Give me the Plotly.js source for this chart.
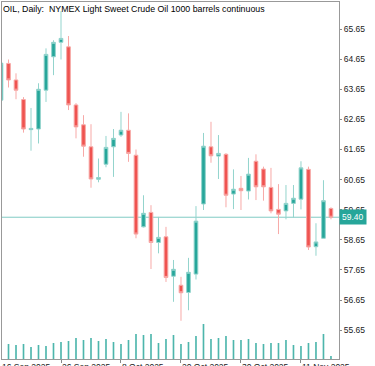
<!DOCTYPE html>
<html>
<head>
<meta charset="utf-8">
<script src="https://cdn.plot.ly/plotly-3.0.1.min.js"></script>
<style>
html,body{margin:0;padding:0;background:#fff;}
#chart{width:375px;height:366px;}
</style>
</head>
<body>
<div id="chart"></div>
<script>
// ---- data ----
const dates = ["2025-09-16","2025-09-17","2025-09-18","2025-09-19","2025-09-22","2025-09-23","2025-09-24","2025-09-25","2025-09-26","2025-09-29",
"2025-09-30","2025-10-01","2025-10-02","2025-10-03","2025-10-06","2025-10-07","2025-10-08","2025-10-09","2025-10-10","2025-10-13",
"2025-10-14","2025-10-15","2025-10-16","2025-10-17","2025-10-20","2025-10-21","2025-10-22","2025-10-23","2025-10-24","2025-10-27",
"2025-10-28","2025-10-29","2025-10-30","2025-10-31","2025-11-03","2025-11-04","2025-11-05","2025-11-06","2025-11-07","2025-11-10",
"2025-11-11","2025-11-12","2025-11-13","2025-11-14","2025-11-17"];
const open  = [63.29,64.51,63.96,63.31,62.31,62.33,63.62,64.73,65.21,65.06,
               63.13,62.47,61.74,60.66,61.16,61.74,62.13,62.29,61.46,59.08,
               59.56,58.56,58.75,57.44,57.14,56.90,57.51,59.84,61.74,61.43,
               61.49,60.17,60.36,60.27,61.26,61.00,60.39,59.66,59.61,59.86,
               60.00,60.99,58.42,58.70,59.69];
const high  = [64.62,64.64,64.18,63.39,63.03,63.85,65.01,65.28,66.25,65.42,
               63.19,62.79,62.49,61.35,62.10,62.33,62.90,62.85,61.65,60.13,
               59.80,59.41,59.08,57.98,57.42,58.05,59.77,62.20,62.57,62.13,
               61.53,60.99,60.77,61.37,61.49,61.08,61.04,60.50,60.47,60.47,
               61.26,61.08,59.20,60.63,59.73];
const low   = [63.20,63.71,63.32,62.21,61.61,61.85,63.23,64.12,64.64,62.96,
               62.02,61.41,60.38,60.56,61.06,60.74,62.07,61.24,58.70,59.06,
               57.68,58.20,57.25,56.59,55.96,56.31,57.33,59.64,61.21,60.67,
               59.73,59.67,59.64,59.99,59.97,59.95,59.53,58.84,59.33,59.39,
               59.66,58.31,58.12,58.70,59.33];
const close = [64.52,63.96,63.62,62.33,62.35,63.65,64.81,65.21,65.34,63.13,
               62.40,61.76,60.67,60.72,61.72,62.02,62.29,61.52,58.84,59.53,
               58.56,58.73,57.40,57.67,56.89,57.57,59.27,61.76,61.44,61.52,
               60.13,60.33,60.28,60.83,60.41,60.41,59.61,59.50,59.86,60.03,
               61.04,58.41,58.58,59.95,59.40];
const volume = [14,15,14,15,12,14,13,16,17,18,
                21,19,21,18,20,17,15,19,25,24,
                25,16,20,24,15,17,23,35,20,21,
                23,19,19,20,16,15,16,16,19,14,
                13,16,17,25,3];
const tickIdx  = [0,8,16,24,32,40];
const tickText = ["16 Sep 2025","26 Sep 2025","8 Oct 2025","20 Oct 2025","30 Oct 2025","11 Nov 2025"];
const priceTicks = [55.65,56.65,57.65,58.65,59.65,60.65,61.65,62.65,63.65,64.65,65.65];
const titleText = "OIL, Daily:  NYMEX Light Sweet Crude Oil 1000 barrels continuous";

// ---- chart ----
const idx = dates.map((d,i)=>i);
const lastPrice = close[close.length-1];
const FONT = "Liberation Sans, Arial, sans-serif";
const xRange = [0.133, 45.07];

const traces = [
  {
    type:'bar', x: idx, y: volume, yaxis:'y2', width:0.22,
    marker:{color:'#4db6ac', line:{width:0}}, hoverinfo:'none', showlegend:false
  },
  {
    type:'candlestick', x: idx, open: open, high: high, low: low, close: close,
    increasing:{line:{color:'#93d4cd', width:1}, fillcolor:'#26a69a'},
    decreasing:{line:{color:'#f7a9a7', width:1}, fillcolor:'#ef5350'},
    whiskerwidth:0, hoverinfo:'none', showlegend:false
  }
];

// date labels start at their tick (position converted through the x-axis range)
const annotations = tickIdx.map((t,k)=>({
  x: (t - xRange[0])/(xRange[1]-xRange[0]), xref:'paper', y: 0, yref:'paper', yanchor:'top', xanchor:'left',
  yshift:-1, xshift:-1, text: tickText[k], showarrow:false,
  font:{family:FONT, size:8.5, color:'#222'}
}));
annotations.push({
  x:1, xref:'paper', xanchor:'left', y:lastPrice, yref:'y', yanchor:'middle',
  text: lastPrice.toFixed(2), showarrow:false, bgcolor:'#26a69a', borderpad:2,
  font:{family:FONT, size:8.5, color:'#ffffff'}
});

const layout = {
  width:375, height:366,
  margin:{l:2, r:36, t:2, b:7, pad:0},
  paper_bgcolor:'#fff', plot_bgcolor:'#fff',
  showlegend:false,
  title:{text:titleText, x:0, xref:'paper', xanchor:'left', y:1-9/366, yref:'container', yanchor:'middle',
         pad:{l:1}, font:{family:FONT, size:8.8, color:'#000'}},
  xaxis:{type:'linear', range:xRange, rangeslider:{visible:false},
         tickvals:tickIdx, showticklabels:false, ticks:'outside', ticklen:3, tickcolor:'#888',
         showgrid:false, zeroline:false, showline:true, linecolor:'#999', linewidth:1, mirror:true},
  yaxis:{range:[54.69, 66.55], side:'right', tickvals:priceTicks, ticktext:priceTicks.map(v=>v.toFixed(2)),
         ticks:'outside', ticklen:2, tickcolor:'#888', showgrid:false, zeroline:false,
         showline:true, linecolor:'#999', linewidth:1, mirror:true,
         tickfont:{family:FONT, size:8.5, color:'#222'}},
  yaxis2:{overlaying:'y', range:[0,357], visible:false, fixedrange:true},
  shapes:[{type:'line', xref:'paper', x0:0, x1:1, yref:'y', y0:lastPrice, y1:lastPrice,
           line:{color:'#80cbc4', width:1}, layer:'below'}],
  annotations: annotations
};

Plotly.newPlot('chart', traces, layout, {staticPlot:true, displayModeBar:false});
</script>
</body>
</html>
